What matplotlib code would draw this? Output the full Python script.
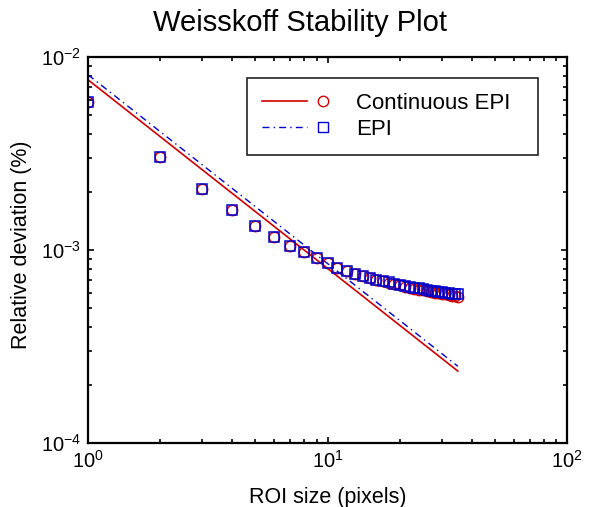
import matplotlib
matplotlib.use('Agg')
import matplotlib.pyplot as plt
from matplotlib.lines import Line2D
from matplotlib.legend_handler import HandlerTuple

plt.rcParams['font.family'] = ['Liberation Sans', 'DejaVu Sans']
plt.rcParams['mathtext.fontset'] = 'custom'
plt.rcParams['mathtext.rm'] = 'Liberation Sans'

# ROI sizes (pixels)
roi = list(range(1, 36))

# measured relative deviation, Continuous EPI (red circles)
rdv_cont = [5.86e-3, 3.04e-3, 2.07e-3, 1.61e-3, 1.33e-3, 1.17e-3, 1.05e-3, 9.77e-4,
            9.10e-4, 8.57e-4, 8.07e-4, 7.78e-4, 7.52e-4, 7.32e-4, 7.14e-4, 7.00e-4,
            6.87e-4, 6.75e-4, 6.64e-4, 6.55e-4, 6.46e-4, 6.38e-4, 6.31e-4, 6.24e-4,
            6.18e-4, 6.12e-4, 6.06e-4, 6.01e-4, 5.96e-4, 5.92e-4, 5.88e-4, 5.84e-4,
            5.80e-4, 5.77e-4, 5.74e-4]

# measured relative deviation, EPI (blue squares)
rdv_epi = [5.86e-3, 3.04e-3, 2.07e-3, 1.61e-3, 1.33e-3, 1.17e-3, 1.05e-3, 9.77e-4,
           9.10e-4, 8.57e-4, 8.07e-4, 7.78e-4, 7.52e-4, 7.33e-4, 7.16e-4, 7.02e-4,
           6.90e-4, 6.79e-4, 6.69e-4, 6.60e-4, 6.52e-4, 6.45e-4, 6.38e-4, 6.32e-4,
           6.26e-4, 6.21e-4, 6.16e-4, 6.11e-4, 6.07e-4, 6.03e-4, 5.99e-4, 5.96e-4,
           5.93e-4, 5.90e-4, 5.88e-4]

# theoretical lines (end points, straight on log-log)
line_x = [1, 35]
line_cont = [7.6e-3, 2.36e-4]
line_epi = [8.07e-3, 2.50e-4]

red = '#cc0000'
blue = '#0000cc'
dashdot = (0, (5, 3, 1, 3))

fig = plt.figure(figsize=(5.95, 5.07), dpi=100)
ax = fig.add_axes([0.148, 0.126, 0.805, 0.762])

ax.plot(line_x, line_cont, color=red, lw=1.2)
ax.plot(line_x, line_epi, color=blue, lw=1.0, linestyle=dashdot)
ax.plot(roi, rdv_cont, 'o', mfc='none', mec=red, ms=7.5, mew=1.0)
ax.plot(roi, rdv_epi, 's', mfc='none', mec=blue, ms=7.5, mew=1.1)

ax.set_xscale('log')
ax.set_yscale('log')
ax.set_xlim(1, 100)
ax.set_ylim(1e-4, 1e-2)

# title is centred on the figure, not the axes
fig.text(0.504, 0.955, 'Weisskoff Stability Plot', fontsize=21, ha='center', va='center')
ax.set_xlabel('ROI size (pixels)', fontsize=15.5, labelpad=11)
ax.set_ylabel('Relative deviation (%)', fontsize=15.5)
ax.yaxis.set_label_coords(-0.117, 0.513)

for s in ax.spines.values():
    s.set_linewidth(1.6)
ax.tick_params(which='both', direction='in', top=True, right=True, width=1.2)
ax.tick_params(which='major', length=4, labelsize=14.5, pad=5)
ax.tick_params(which='minor', length=3)

h1 = (Line2D([], [], color=red, lw=1.2),
      Line2D([], [], marker='o', ls='none', mfc='none', mec=red, ms=7.5))
h2 = (Line2D([], [], color=blue, lw=1.0, linestyle=dashdot),
      Line2D([], [], marker='s', ls='none', mfc='none', mec=blue, ms=7.5))
leg = ax.legend([h1, h2], ['Continuous EPI  ', 'EPI'],
                handler_map={tuple: HandlerTuple(ndivide=2, pad=-0.29)},
                handlelength=3.76, fontsize=16, loc='upper right',
                bbox_to_anchor=(0.939, 0.946), borderaxespad=0, fancybox=False, framealpha=1,
                edgecolor='#222222', borderpad=0.7, labelspacing=0.2, handletextpad=0.45)
leg.get_frame().set_linewidth(1.2)

plt.savefig('out.png', dpi=100)
